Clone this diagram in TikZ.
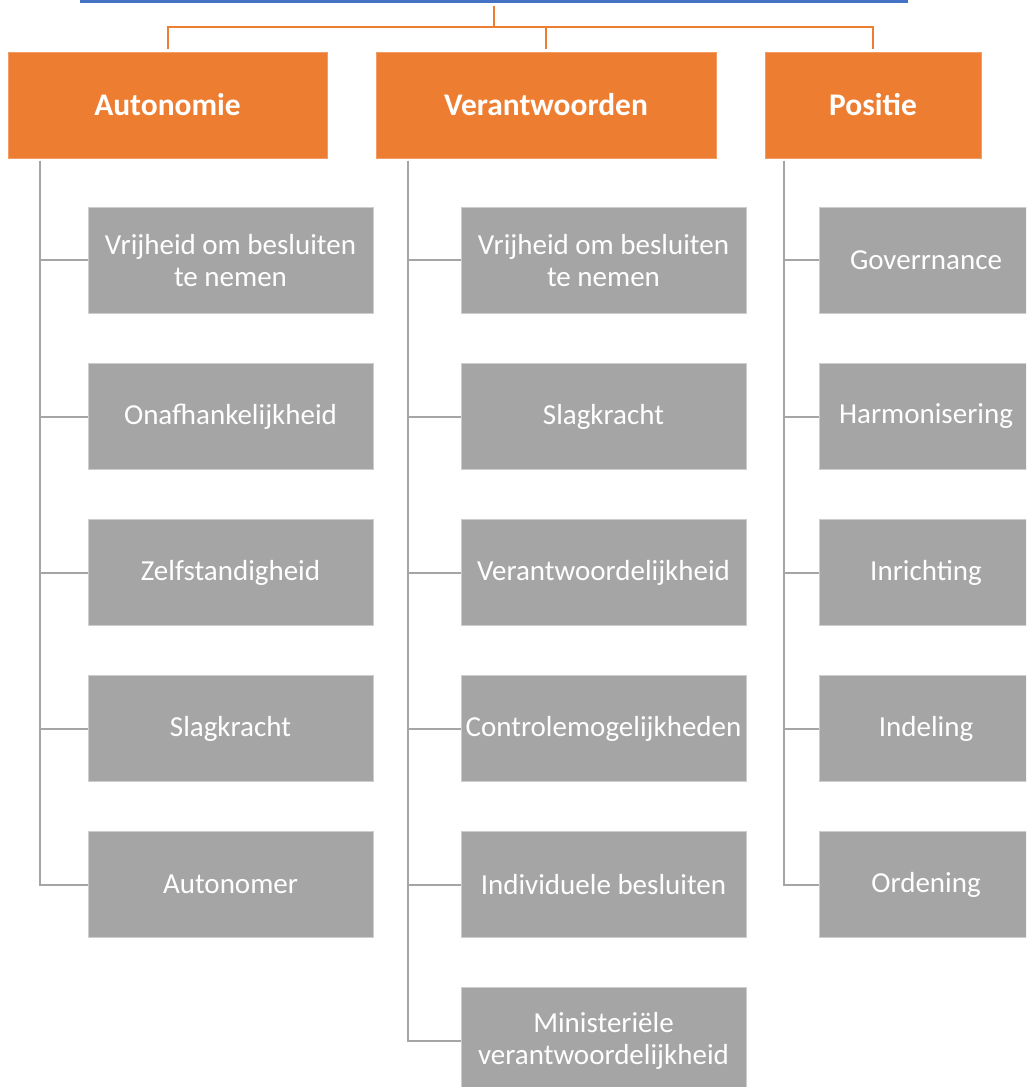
\documentclass[tikz,border=0pt]{standalone}
\usepackage{fontspec}
\setmainfont{Carlito}

\definecolor{orgfill}{HTML}{ED7D31}
\definecolor{grayfill}{HTML}{A5A5A5}
\definecolor{topblue}{HTML}{4472C4}

\begin{document}
\begin{tikzpicture}[x=0.75pt,y=-0.75pt,
  topbox/.style={fill=topblue, inner sep=0pt, minimum width=621pt, minimum height=45pt},
  headbox/.style={fill=orgfill, draw=orgfill!75!white, line width=0.6pt, inner sep=0pt,
    minimum height=79.5pt, text=white, font=\fontsize{23.6}{26}\selectfont\bfseries},
  itembox/.style={fill=grayfill, draw=grayfill!55!white, line width=0.6pt, inner sep=0pt,
    minimum width=213.75pt, minimum height=79.5pt, text=white, align=center,
    font=\fontsize{21.75}{24}\selectfont},
  orgline/.style={draw=orgfill, line width=1.5pt, shorten <=2.25pt, shorten >=2.25pt},
  grayline/.style={draw=grayfill, line width=1.5pt}]
\clip (0,0) rectangle (1026,1087);

% top box, only its lower edge is visible
\node[topbox] (top) at (494,-27) {};

% heads
\node[headbox, minimum width=239.25pt] (auto) at (167.5,105) {Autonomie};
\node[headbox, minimum width=255pt] (verant) at (546,105) {Verantwoorden};
\node[headbox, minimum width=162pt] (pos) at (873,105) {Positie};

\draw[orgline] (top.south) -- ++(0,24) -| (auto.north);
\draw[orgline] (top.south) -- ++(0,24) -| (verant.north);
\draw[orgline] (top.south) -- ++(0,24) -| (pos.north);

% Autonomie
\node[itembox] (a1) at (230.5,260.5) {Vrijheid om besluiten\\te nemen};
\node[itembox] (a2) at (230.5,416.5) {Onafhankelijkheid};
\node[itembox] (a3) at (230.5,572.5) {Zelfstandigheid};
\node[itembox] (a4) at (230.5,728.5) {Slagkracht};
\node[itembox] (a5) at (230.5,884.5) {Autonomer};

% Verantwoorden
\node[itembox] (v1) at (603.5,260.5) {Vrijheid om besluiten\\te nemen};
\node[itembox] (v2) at (603.5,416.5) {Slagkracht};
\node[itembox] (v3) at (603.5,572.5) {Verantwoordelijkheid};
\node[itembox] (v4) at (603.5,728.5) {Controlemogelijkheden};
\node[itembox] (v5) at (603.5,884.5) {Individuele besluiten};
\node[itembox] (v6) at (603.5,1040.5) {Ministeriële\\verantwoordelijkheid};

% Positie
\node[itembox, minimum width=160.5pt] (p1) at (926,260.5) {Goverrnance};
\node[itembox, minimum width=160.5pt] (p2) at (926,416.5) {Harmonisering};
\node[itembox, minimum width=160.5pt] (p3) at (926,572.5) {Inrichting};
\node[itembox, minimum width=160.5pt] (p4) at (926,728.5) {Indeling};
\node[itembox, minimum width=160.5pt] (p5) at (926,884.5) {Ordening};

% grey lines under each head
\coordinate (sa) at (40,161);
\coordinate (sv) at (408,161);
\coordinate (sp) at (784,161);

\draw[grayline] (sa) |- (a1.west);
\draw[grayline] (sa) |- (a2.west);
\draw[grayline] (sa) |- (a3.west);
\draw[grayline] (sa) |- (a4.west);
\draw[grayline] (sa) |- (a5.west);

\draw[grayline] (sv) |- (v1.west);
\draw[grayline] (sv) |- (v2.west);
\draw[grayline] (sv) |- (v3.west);
\draw[grayline] (sv) |- (v4.west);
\draw[grayline] (sv) |- (v5.west);
\draw[grayline] (sv) |- (v6.west);

\draw[grayline] (sp) |- (p1.west);
\draw[grayline] (sp) |- (p2.west);
\draw[grayline] (sp) |- (p3.west);
\draw[grayline] (sp) |- (p4.west);
\draw[grayline] (sp) |- (p5.west);

\end{tikzpicture}
\end{document}
